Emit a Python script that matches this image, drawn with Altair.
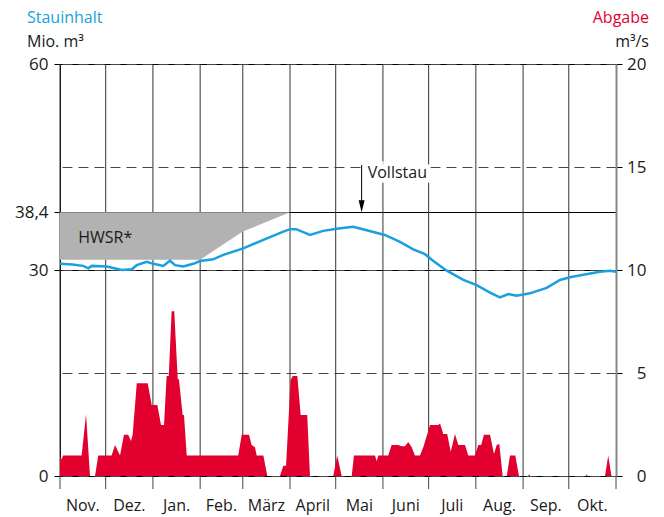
import altair as alt
import pandas as pd

# ---------------- data ----------------
months = ["Nov.", "Dez.", "Jan.", "Feb.", "März", "April", "Mai", "Juni", "Juli", "Aug.", "Sep.", "Okt."]
month_days = [30, 31, 31, 28, 31, 30, 31, 30, 31, 31, 30, 31]

# Stauinhalt (Mio. m³) - day of hydrological year
stau_day = [0, 8, 15.3, 18.6, 20.8, 30.7, 40.5, 47.1, 50.4, 56.9, 61.3, 67.8, 72.2, 75.5,
            80.9, 87.5, 91.9, 100.6, 107.2, 120.3, 133.5, 146.6, 151, 155, 164.1, 172.8,
            182.7, 192.5, 201.3, 213.3, 223.2, 231.9, 239.6, 245.1, 253.9, 264.8, 273.5,
            282.3, 288.8, 294.3, 299.8, 308.5, 319.5, 328.2, 334.8, 343.5, 354.5, 361.1, 365]
stau_val = [30.9, 30.8, 30.6, 30.25, 30.6, 30.5, 30.0, 30.1, 30.7, 31.2, 30.9, 30.6, 31.35, 30.7,
            30.5, 30.9, 31.3, 31.55, 32.2, 33.15, 34.4, 35.6, 35.95, 35.95, 35.1, 35.7,
            36.05, 36.3, 35.8, 35.1, 34.1, 33.0, 32.3, 31.3, 29.9, 28.55, 27.8,
            26.7, 26.0, 26.5, 26.25, 26.6, 27.4, 28.55, 28.95, 29.3, 29.75, 29.9, 29.75]

# Abgabe (m³/s)
abg_day = [0, 1, 2, 14.2, 17.1, 19.7, 23, 25.1, 33.9, 36.1, 39.4, 42, 44.8, 46.6, 47.7,
           50.4, 57.6, 60.2, 63.9, 66.3, 68.3, 70, 71.4, 73.3, 75, 77.3, 78.1, 80.5, 81.4,
           83.2, 117, 119.3, 124.1, 125.8, 128, 129.1, 133.5, 136.1, 144.4, 146.6, 148.4,
           151.4, 152.8, 155.8, 158, 162.3, 164.1, 179.4, 182, 184.9, 191.5, 193, 206.8,
           207.9, 209, 215.5, 217.7, 222.1, 224.3, 226.5, 228.6, 230.9, 233, 236.3, 238.5,
           242.9, 248.3, 249.5, 251.6, 254.2, 256.5, 259.3, 261.5, 265.9, 268, 272.4,
           274.6, 276.5, 278.3, 282.3, 284.9, 286.7, 288.4, 290.6, 293.3, 295.4, 298.9,
           301.3, 307.4, 308, 308.6, 345.3, 345.8, 346.3, 357.8, 359.9, 362, 365]
abg_val = [1.0, 0.8, 1.0, 1.0, 3.0, 0, 0, 1.0, 1.0, 1.5, 1.0, 2.0, 2.0, 1.7, 2.0,
           4.5, 4.5, 3.45, 3.45, 2.48, 2.48, 4.85, 4.85, 8.0, 8.0, 4.7, 4.7, 2.96, 2.96,
           1.0, 1.0, 2.0, 2.0, 1.5, 1.4, 1.0, 1.0, 0, 0, 0.5, 0.5,
           4.66, 4.85, 4.85, 2.96, 2.96, 0, 0, 1.0, 0, 0, 1.0, 1.0,
           0.72, 1.0, 1.0, 1.5, 1.5, 1.45, 1.45, 1.65, 1.4, 1.0, 1.0, 1.4,
           2.48, 2.48, 2.55, 2.04, 2.04, 1.18, 2.04, 1.5, 1.5, 1.0, 1.0,
           1.5, 1.5, 2.0, 2.0, 1.07, 1.5, 1.55, 0, 0, 1.0, 1.0,
           0, 0, 0.1, 0, 0, 0.1, 0, 0, 1.0, 0, 0]

# Hochwasserschutzraum
hwsr_day = [0, 92, 120, 151]
hwsr_low = [31.5, 31.5, 35.6, 38.4]
hwsr_top = 38.4

vollstau_day = 198
vollstau_from = 45.3
vollstau_to = 39.3
vollstau_text_day = 202
vollstau_text_val = 43.4

left_ticks = [0, 30, 38.4, 60]
right_ticks = [0, 5, 10, 15, 20]
LEFT_MAX = 60
RIGHT_MAX = 20
RATIO = LEFT_MAX / RIGHT_MAX  # Mio. m³ per m³/s on the shared vertical scale

# ---------------- style ----------------
BLUE = "#1A9FE0"
RED = "#E2002F"
GREY = "#B2B2B2"
INK = "#1a1a1a"
FONT = "Open Sans"

bounds = [0]
for d in month_days:
    bounds.append(bounds[-1] + d)
mids = [(bounds[i] + bounds[i + 1]) / 2 for i in range(12)]

X = alt.Scale(domain=[0, 365], nice=False, zero=False)
Y = alt.Scale(domain=[0, LEFT_MAX], nice=False)

left_axis = alt.Axis(values=left_ticks, orient="left", grid=True, gridColor="#000000",
                     gridWidth=1, tickSize=6, tickColor="#000000", labelPadding=6,
                     domain=True, domainColor="#000000",
                     labelExpr="replace(format(datum.value, '.1~f'), '.', ',')",
                     title=None)

right_axis = alt.Axis(values=[v * RATIO for v in right_ticks], orient="right", grid=True,
                      gridColor="#444444", gridWidth=1, gridDash=[10, 6], tickSize=6,
                      tickColor="#000000", labelAlign="right", labelPadding=24, domain=True,
                      domainColor="#888888", domainWidth=2, title=None,
                      labelExpr=f"format(datum.value / {RATIO}, 'd')")

# ---------------- layers ----------------
bounds_df = pd.DataFrame({"day": bounds[:-1]})
vgrid = alt.Chart(bounds_df).mark_rule(color="#333333", strokeWidth=1).encode(
    x=alt.X("day:Q", scale=X, axis=None),
)
xticks = alt.Chart(pd.DataFrame({"day": bounds})).mark_rule(color="#444444", strokeWidth=1).encode(
    x=alt.X("day:Q", scale=X, axis=None),
    y=alt.value(412), y2=alt.value(425),
)

hwsr_df = pd.DataFrame({"day": hwsr_day, "low": hwsr_low, "top": [hwsr_top] * len(hwsr_day)})
hwsr = alt.Chart(hwsr_df).mark_area(color=GREY, opacity=1).encode(
    x=alt.X("day:Q", scale=X, axis=None),
    y=alt.Y("low:Q", scale=Y, axis=left_axis),
    y2="top:Q",
)

abg_df = pd.DataFrame({"day": abg_day, "v": abg_val})
abg = alt.Chart(abg_df).transform_calculate(
    vs=f"datum.v * {RATIO}"
).mark_area(color=RED, opacity=1, interpolate="linear").encode(
    x=alt.X("day:Q", scale=X, axis=None),
    y=alt.Y("vs:Q", scale=Y, axis=right_axis),
)

hwsr_lbl = alt.Chart(pd.DataFrame({"day": [12], "v": [34.0], "t": ["HWSR*"]})).mark_text(
    align="left", baseline="alphabetic", font=FONT, fontSize=16, color=INK
).encode(x=alt.X("day:Q", scale=X, axis=None), y=alt.Y("v:Q", scale=Y, axis=None), text="t:N")

stau_df = pd.DataFrame({"day": stau_day, "v": stau_val})
stau = alt.Chart(stau_df).mark_line(color=BLUE, strokeWidth=2.5).encode(
    x=alt.X("day:Q", scale=X, axis=None),
    y=alt.Y("v:Q", scale=Y, axis=None),
)

vs_df = pd.DataFrame({"day": [vollstau_day], "a": [vollstau_from], "b": [vollstau_to]})
vs_rule = alt.Chart(vs_df).mark_rule(color="#000000", strokeWidth=1).encode(
    x=alt.X("day:Q", scale=X, axis=None),
    y=alt.Y("a:Q", scale=Y, axis=None),
    y2="b:Q",
)
vs_head = alt.Chart(vs_df).mark_point(
    shape="M -0.5 -1 L 0.5 -1 L 0 1 Z", size=144, filled=True, color="#000000", opacity=1
).encode(
    x=alt.X("day:Q", scale=X, axis=None),
    y=alt.Y("b:Q", scale=Y, axis=None),
)
vs_txt_df = pd.DataFrame({"day": [vollstau_text_day], "v": [vollstau_text_val], "t": ["Vollstau"]})
vs_halo = alt.Chart(vs_txt_df).mark_text(
    align="left", baseline="alphabetic", font=FONT, fontSize=16, color="white",
    stroke="white", strokeWidth=9
).encode(x=alt.X("day:Q", scale=X, axis=None), y=alt.Y("v:Q", scale=Y, axis=None), text="t:N")
vs_txt = alt.Chart(vs_txt_df).mark_text(
    align="left", baseline="alphabetic", font=FONT, fontSize=16, color=INK
).encode(x=alt.X("day:Q", scale=X, axis=None), y=alt.Y("v:Q", scale=Y, axis=None), text="t:N")

month_df = pd.DataFrame({"day": mids, "m": months})
month_lbl = alt.Chart(month_df).mark_text(
    align="center", baseline="alphabetic", font=FONT, fontSize=16, color=INK
).encode(x=alt.X("day:Q", scale=X, axis=None), y=alt.value(447), text="m:N")


def title_text(txt, color, xpos, ypos, align):
    return alt.Chart(pd.DataFrame({"t": [txt]})).mark_text(
        align=align, baseline="alphabetic", font=FONT, fontSize=16, color=color
    ).encode(x=alt.value(xpos), y=alt.value(ypos), text="t:N")


t1 = title_text("Stauinhalt", BLUE, -33, -41, "left")
t2 = title_text("Mio. m³", INK, -33, -17, "left")
t3 = title_text("Abgabe", RED, 589, -41, "right")
t4 = title_text("m³/s", INK, 589, -17, "right")

chart = alt.layer(vgrid, xticks, hwsr, abg, hwsr_lbl, stau, vs_halo, vs_txt, vs_rule, vs_head,
                  month_lbl, t1, t2, t3, t4).resolve_axis(y="independent").properties(
    width=556, height=412,
    autosize=alt.AutoSizeParams(type="none"),
    padding={"left": 52, "top": 56, "right": 40, "bottom": 45},
).configure_view(stroke=None).configure_axis(
    labelFont=FONT, labelFontSize=17, labelColor=INK
)

chart.save("out.html", embed_options={"renderer": "svg", "actions": False})
